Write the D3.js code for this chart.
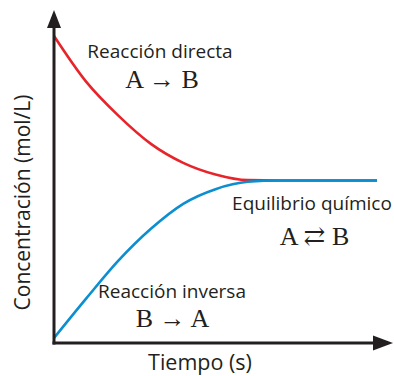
<!DOCTYPE html>
<html>
<head>
<meta charset="utf-8">
<script src="https://cdn.jsdelivr.net/npm/d3@7"></script>
<style>
  body { margin: 0; background: #fff; }
  svg { display: block; }
  .lbl { font-family: "Open Sans", sans-serif; fill: #231f20; }
  .eq { font-family: "Liberation Serif", "DejaVu Serif", serif; fill: #231f20; }
</style>
</head>
<body>
<div id="vis"></div>
<script>
(function() {
    var width = 394,
        height = 376;

    // time (s), arbitrary units along the x axis
    var tiempo = [0, 1, 2, 3, 4, 5, 6, 7, 8, 9, 10];
    // concentration of A (reaccion directa) and B (reaccion inversa)
    var directa = [0.922, 0.784, 0.682, 0.598, 0.541, 0.506, 0.489, 0.488, 0.488, 0.488, 0.488];
    var inversa = [0.015, 0.134, 0.248, 0.343, 0.418, 0.462, 0.484, 0.488, 0.488, 0.488, 0.488];

    var colors = {
        red: "#e8242b",
        blue: "#0b8fd0",
        axis: "#231f20"
    }

    var svg = d3.select("#vis")
        .append("svg")
        .attr("width", width)
        .attr("height", height)

    var x = d3.scaleLinear().domain([0, 10]).range([54, 377])
    var y = d3.scaleLinear().domain([0, 1]).range([343, 10])

    var line = d3.line()
        .x(function(d, i) { return x(tiempo[i]) })
        .y(function(d) { return y(d) })
        .curve(d3.curveMonotoneX)

    svg.append("path")
        .attr("d", line(directa))
        .attr("fill", "none")
        .attr("stroke", colors.red)
        .attr("stroke-width", 2.6)

    svg.append("path")
        .attr("d", line(inversa))
        .attr("fill", "none")
        .attr("stroke", colors.blue)
        .attr("stroke-width", 2.6)

    // axes with arrow heads
    var x0 = x(0), y0 = y(0)
    svg.append("line")
        .attr("x1", x0).attr("y1", y0 + 1.5)
        .attr("x2", x0).attr("y2", 26)
        .attr("stroke", colors.axis).attr("stroke-width", 3)
    svg.append("path")
        .attr("d", "M" + x0 + ",10 L" + (x0 + 7) + ",28 L" + (x0 - 7) + ",28 Z")
        .attr("fill", colors.axis)

    svg.append("line")
        .attr("x1", x0 - 1.5).attr("y1", y0)
        .attr("x2", 375).attr("y2", y0)
        .attr("stroke", colors.axis).attr("stroke-width", 3)
    svg.append("path")
        .attr("d", "M393," + y0 + " L373," + (y0 - 7.5) + " L373," + (y0 + 7.5) + " Z")
        .attr("fill", colors.axis)

    // labels
    var texts = [
        {t: "Reacción directa", x: 160, y: 58, size: 19, cls: "lbl"},
        {t: "A \u2192 B", x: 162, y: 88, size: 26, cls: "eq"},
        {t: "Equilibrio químico", x: 312, y: 210, size: 19, cls: "lbl"},
        {t: "A \u21C4 B", x: 314.5, y: 245, size: 26, cls: "eq"},
        {t: "Reacción inversa", x: 172, y: 298, size: 19, cls: "lbl"},
        {t: "B \u2192 A", x: 172.5, y: 327, size: 26, cls: "eq"},
        {t: "Tiempo (s)", x: 200, y: 370, size: 21.5, cls: "lbl"}
    ]

    svg.selectAll(".txt")
        .data(texts)
        .enter().append("text")
        .attr("class", function(d) { return d.cls })
        .attr("x", function(d) { return d.x })
        .attr("y", function(d) { return d.y })
        .attr("text-anchor", "middle")
        .style("font-size", function(d) { return d.size + "px" })
        .text(function(d) { return d.t })

    svg.append("text")
        .attr("class", "lbl")
        .attr("transform", "translate(30,202.5) rotate(-90)")
        .attr("text-anchor", "middle")
        .style("font-size", "21px")
        .text("Concentración (mol/L)")
})();
</script>
</body>
</html>
